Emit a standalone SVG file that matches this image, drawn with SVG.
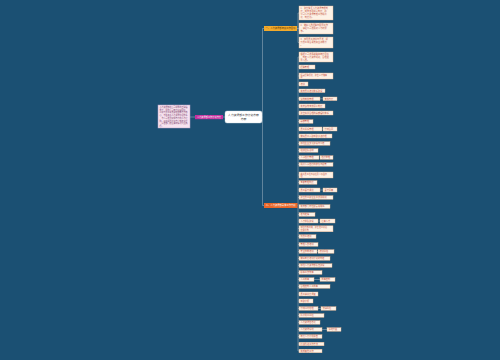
<svg xmlns="http://www.w3.org/2000/svg" width="500" height="360" viewBox="0 0 500 360">
<style>
.bg{fill:#1b5073}
.ln{fill:none;stroke:#a8b9c6;stroke-width:0.5}
.c{fill:#fdf2e6;stroke:#eab48d;stroke-width:0.4}
.t{font-family:"Noto Sans CJK SC","Noto Sans",sans-serif;font-size:2.2px;fill:#c4503c}
.t2{font-family:"Noto Sans CJK SC","Noto Sans",sans-serif;font-size:2.05px;fill:#c4503c}
.s{font-family:"Noto Sans CJK SC","Noto Sans",sans-serif}
</style>
<rect class="bg" width="500" height="360"/>
<g id="connectors">
<path class="ln" d="M190,117 H195"/>
<path class="ln" d="M223,117 H225" stroke="#c4309e"/>
<path class="ln" d="M262,117 H262.5 M262.5,28.5 V205.5 M262.5,28.5 H264 M262.5,205.5 H264"/>
<path class="ln" d="M297,28.5 H298 M298,13 V42.5 M298,13 H299 M298,28.5 H299 M298,42.5 H299"/>
<path class="ln" d="M297.5,205.5 H298 M298,57 V351 M298,57 H299 M298,67 H299 M298,76 H299 M298,84 H299 M298,90.8 H299 M298,98.8 H299 M298,106 H299 M298,113 H299 M298,121.5 H299 M298,129 H299 M298,136 H299 M298,143.5 H299 M298,150.5 H299 M298,157.5 H299 M298,164.5 H299 M298,175 H299 M298,182.5 H299 M298,190 H299 M298,197.5 H299 M298,214.5 H299 M298,221 H299 M298,228.5 H299 M298,236.5 H299 M298,244.5 H299 M298,251.5 H299 M298,258.5 H299 M298,265.5 H299 M298,272.5 H299 M298,279.5 H299 M298,286.5 H299 M298,294 H299 M298,301 H299 M298,308.5 H299 M298,315.5 H299 M298,322.5 H299 M298,329.5 H299 M298,336.5 H299 M298,344 H299 M298,351 H299"/>
<path class="ln" d="M320,98.8 H323 M322,129 H323 M320,190 H323 M318,221 H320 M317,251.5 H318 M314,279.5 H320 M318,308.5 H321 M322,329.5 H327"/>
</g>
<g id="note-left">
<rect x="158" y="105" width="32" height="23" fill="#f7e3f0" stroke="#b6a0c8" stroke-width="0.5"/>
<text class="s" font-size="2" fill="#7a3e6a"><tspan x="159.5" y="108">人力资源部在公司领导的正确指</tspan><tspan x="159.5" y="110.7">导下，围绕公司年度经营目标，</tspan><tspan x="159.5" y="113.4">以提升员工素质和组织能力为核</tspan><tspan x="159.5" y="116.1">心，不断完善人力资源管理体系</tspan><tspan x="159.5" y="118.8">，为公司发展提供有力的人才保</tspan><tspan x="159.5" y="121.5">障。现将工作计划方案制定如下</tspan><tspan x="159.5" y="124.2">，请各部门结合实际情况认真执</tspan><tspan x="159.5" y="126.9">行。</tspan></text>
</g>
<g id="node-magenta">
<rect x="195" y="115" width="28" height="4.2" fill="#c4309e"/>
<text class="s" x="209" y="118" font-size="2.2" fill="#fff" text-anchor="middle">人力资源部工作计划方案</text>
</g>
<g id="node-center">
<rect x="225" y="111" width="37" height="12" rx="2" fill="#fff" stroke="#cfd8df" stroke-width="0.4"/>
<text class="s" font-size="2.8" fill="#333" text-anchor="middle"><tspan x="243.5" y="116.2">人力资源部工作计划方案</tspan><tspan x="243.5" y="120.2">方案</tspan></text>
</g>
<g id="branch-1">
<rect x="264" y="26" width="33" height="5" fill="#f2aa2c"/>
<text class="s" x="280.5" y="29.3" font-size="2.3" fill="#5a3500" text-anchor="middle">一、人力资源部年度工作目标</text>
</g>
<g id="branch-2">
<rect x="264" y="203" width="33.5" height="5" fill="#e8672a"/>
<text class="s" x="280.7" y="206.3" font-size="2.3" fill="#fff" text-anchor="middle">二、人力资源部具体工作方案</text>
</g>
<g id="b1-c1"><rect class="c" x="299" y="6" width="34" height="14"/><text class="t"><tspan x="300.5" y="9">1、建立健全人力资源管理制</tspan><tspan x="300.5" y="12">度，完善各项规章制度，使</tspan><tspan x="300.5" y="15">公司人力资源管理工作规范</tspan><tspan x="300.5" y="18">化、制度化。</tspan></text></g>
<g id="b1-c2"><rect class="c" x="299" y="23" width="34" height="11"/><text class="t"><tspan x="300.5" y="26">2、做好人员招聘与配置工作</tspan><tspan x="300.5" y="29">，满足公司发展对人才的需</tspan><tspan x="300.5" y="32">求。</tspan></text></g>
<g id="b1-c3"><rect class="c" x="299" y="37" width="34" height="11"/><text class="t"><tspan x="300.5" y="40">3、加强员工培训与开发，提</tspan><tspan x="300.5" y="43">升员工综合素质和业务能力</tspan><tspan x="300.5" y="46">。</tspan></text></g>
<g id="b2-c1"><rect class="c" x="299" y="52" width="34" height="10"/><text class="t"><tspan x="300.5" y="55">根据公司发展战略和年度目标</tspan><tspan x="300.5" y="58">，制定人力资源规划，合理配</tspan><tspan x="300.5" y="61">置人员。</tspan></text></g>
<g id="b2-c2"><rect class="c" x="299" y="65" width="16" height="4"/><text class="t" x="300.5" y="67.8">招聘管理</text></g>
<g id="b2-c3"><rect class="c" x="299" y="73" width="34" height="6"/><text class="t2"><tspan x="300.5" y="75.5">拓宽招聘渠道，建立人才储备</tspan><tspan x="300.5" y="78.1">库</tspan></text></g>
<g id="b2-c4"><rect class="c" x="299" y="82" width="9" height="4"/><text class="t" x="300.5" y="84.8">培训</text></g>
<g id="b2-c5"><rect class="c" x="299" y="89" width="26" height="3.6"/><text class="t" x="300.5" y="91.6">完善员工培训体系建设</text></g>
<g id="b2-c6"><rect class="c" x="299" y="97" width="21" height="3.6"/><text class="t" x="300.5" y="99.6">绩效考核管理</text><rect class="c" x="323" y="97" width="14" height="3.6"/><text class="t" x="324.5" y="99.6">考核方案</text></g>
<g id="b2-c7"><rect class="c" x="299" y="104" width="26" height="4"/><text class="t" x="300.5" y="106.8">完善绩效考核评价制度</text></g>
<g id="b2-c8"><rect class="c" x="299" y="111" width="34" height="4"/><text class="t" x="300.5" y="113.8">建立科学合理的薪酬福利体系</text></g>
<g id="b2-c9"><rect class="c" x="299" y="119.7" width="14" height="3.6"/><text class="t" x="300.5" y="122.3">薪酬管理</text></g>
<g id="b2-c10"><rect class="c" x="299" y="127" width="23" height="4"/><text class="t" x="300.5" y="129.8">员工关系管理</text><rect class="c" x="323" y="127" width="14" height="4"/><text class="t" x="324.5" y="129.8">劳动合同</text></g>
<g id="b2-c11"><rect class="c" x="299" y="134" width="33" height="4"/><text class="t" x="300.5" y="136.8">做好员工入职离职手续办理</text></g>
<g id="b2-c12"><rect class="c" x="299" y="141.7" width="31" height="3.6"/><text class="t" x="300.5" y="144.3">加强企业文化建设与宣传</text></g>
<g id="b2-c13"><rect class="c" x="299" y="148.7" width="19" height="3.6"/><text class="t" x="300.5" y="151.3">组织团队活动</text></g>
<g id="b2-c14"><rect class="c" x="299" y="155.7" width="20" height="3.6"/><text class="t" x="300.5" y="158.3">人事档案管理</text><rect class="c" x="320" y="155.7" width="13" height="3.6"/><text class="t" x="321.5" y="158.3">档案整理</text></g>
<g id="b2-c15"><rect class="c" x="299" y="162.7" width="34" height="3.6"/><text class="t" x="300.5" y="165.3">规范人事档案的收集与保管</text></g>
<g id="b2-c16"><rect class="c" x="299" y="172" width="34" height="6"/><text class="t2"><tspan x="300.5" y="174.5">完善员工社会保险及公积金办</tspan><tspan x="300.5" y="177.1">理</tspan></text></g>
<g id="b2-c17"><rect class="c" x="299" y="180.7" width="18" height="3.6"/><text class="t" x="300.5" y="183.3">考勤管理制度</text></g>
<g id="b2-c18"><rect class="c" x="299" y="188" width="21" height="4"/><text class="t" x="300.5" y="190.8">员工晋升通道</text><rect class="c" x="323" y="188" width="14" height="4"/><text class="t" x="324.5" y="190.8">晋升评审</text></g>
<g id="b2-c19"><rect class="c" x="299" y="195.7" width="34" height="3.6"/><text class="t" x="300.5" y="198.3">建立员工职业生涯发展规划</text></g>
<g id="b2-c20"><rect class="c" x="299" y="204.7" width="31" height="3.6"/><text class="t" x="300.5" y="207.3">完善部门岗位职责说明书</text></g>
<g id="b2-c21"><rect class="c" x="299" y="212.7" width="16" height="3.6"/><text class="t" x="300.5" y="215.3">定岗定编</text></g>
<g id="b2-c22"><rect class="c" x="299" y="219" width="19" height="4"/><text class="t" x="300.5" y="221.8">人才梯队建设</text><rect class="c" x="320" y="219" width="15" height="4"/><text class="t" x="321.5" y="221.8">后备人才</text></g>
<g id="b2-c23"><rect class="c" x="299" y="225.8" width="34" height="6"/><text class="t2"><tspan x="300.5" y="228.3">加强内部沟通，建立员工意见</tspan><tspan x="300.5" y="230.9">反馈机制</tspan></text></g>
<g id="b2-c24"><rect class="c" x="299" y="234.7" width="17" height="3.6"/><text class="t" x="300.5" y="237.3">新员工培训</text></g>
<g id="b2-c25"><rect class="c" x="299" y="242.7" width="19" height="3.6"/><text class="t" x="300.5" y="245.3">管理人员培训</text></g>
<g id="b2-c26"><rect class="c" x="299" y="249.7" width="18" height="3.6"/><text class="t" x="300.5" y="252.3">专业技能培训</text><rect class="c" x="318" y="249.7" width="16" height="3.6"/><text class="t" x="319.5" y="252.3">培训评估</text></g>
<g id="b2-c27"><rect class="c" x="299" y="256.7" width="31" height="3.6"/><text class="t" x="300.5" y="259.3">做好年度培训计划的制定</text></g>
<g id="b2-c28"><rect class="c" x="299" y="263.7" width="33" height="3.6"/><text class="t" x="300.5" y="266.3">加强人力资源部队伍建设</text></g>
<g id="b2-c29"><rect class="c" x="299" y="270.7" width="23" height="3.6"/><text class="t" x="300.5" y="273.3">提高工作效率</text></g>
<g id="b2-c30"><rect class="c" x="299" y="277.7" width="15" height="3.6"/><text class="t" x="300.5" y="280.3">人工成本</text><rect class="c" x="320" y="277.7" width="15" height="3.6"/><text class="t" x="321.5" y="280.3">成本控制</text></g>
<g id="b2-c31"><rect class="c" x="299" y="284.7" width="31" height="3.6"/><text class="t" x="300.5" y="287.3">合理控制人工成本</text></g>
<g id="b2-c32"><rect class="c" x="299" y="292" width="19" height="4"/><text class="t" x="300.5" y="294.8">员工满意度调查</text></g>
<g id="b2-c33"><rect class="c" x="299" y="299" width="14" height="4"/><text class="t" x="300.5" y="301.8">离职分析</text></g>
<g id="b2-c34"><rect class="c" x="299" y="306.7" width="19" height="3.6"/><text class="t" x="300.5" y="309.3">劳动纠纷处理</text><rect class="c" x="321" y="306.7" width="15" height="3.6"/><text class="t" x="322.5" y="309.3">法律风险</text></g>
<g id="b2-c35"><rect class="c" x="299" y="313.7" width="25" height="3.6"/><text class="t" x="300.5" y="316.3">防范用工风险</text></g>
<g id="b2-c36"><rect class="c" x="299" y="320.7" width="21" height="3.6"/><text class="t" x="300.5" y="323.3">人力资源信息化</text></g>
<g id="b2-c37"><rect class="c" x="299" y="327.7" width="23" height="3.6"/><text class="t" x="300.5" y="330.3">人力资源系统</text><rect class="c" x="327" y="327.7" width="14" height="3.6"/><text class="t" x="328.5" y="330.3">系统升级</text></g>
<g id="b2-c38"><rect class="c" x="299" y="334.7" width="23" height="3.6"/><text class="t" x="300.5" y="337.3">年度人力分析报告</text></g>
<g id="b2-c39"><rect class="c" x="299" y="342.2" width="25" height="3.6"/><text class="t" x="300.5" y="344.8">持续改进工作方法</text></g>
<g id="b2-c40"><rect class="c" x="299" y="349.2" width="23" height="3.6"/><text class="t" x="300.5" y="351.8">完成其他工作</text></g>
</svg>
